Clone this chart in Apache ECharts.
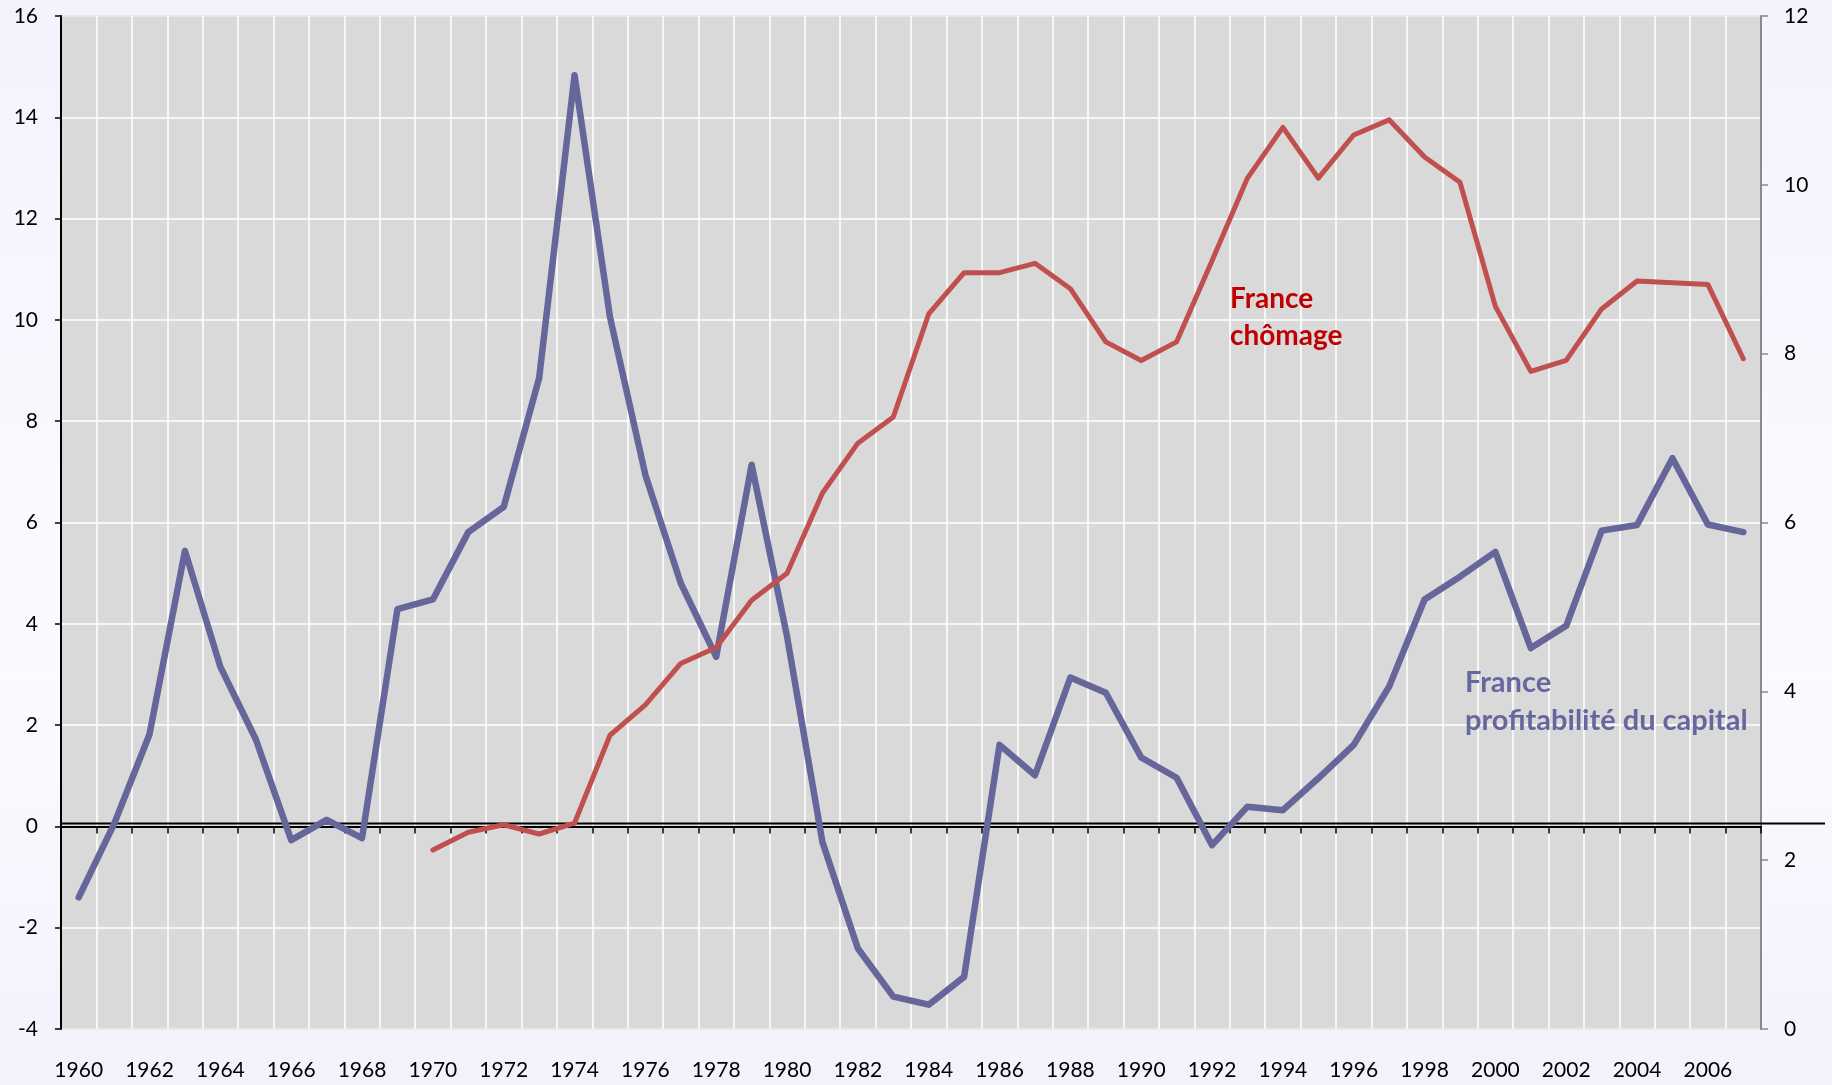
<!DOCTYPE html>
<html>
<head>
<meta charset="utf-8">
<script src="https://cdn.jsdelivr.net/npm/echarts@6/dist/echarts.min.js"></script>
<style>
  html, body { margin: 0; padding: 0; width: 1832px; height: 1085px; overflow: hidden; }
  #chart { width: 1832px; height: 1085px; }
</style>
</head>
<body>
<div id="chart"></div>
<script>
// Years on the horizontal axis
const years = [
  '1960','1961','1962','1963','1964','1965','1966','1967','1968','1969',
  '1970','1971','1972','1973','1974','1975','1976','1977','1978','1979',
  '1980','1981','1982','1983','1984','1985','1986','1987','1988','1989',
  '1990','1991','1992','1993','1994','1995','1996','1997','1998','1999',
  '2000','2001','2002','2003','2004','2005','2006','2007'
];

// France, profitabilité du capital (left axis)
const profitabilite = [
  -1.4, 0.05, 1.82, 5.44, 3.15, 1.72, -0.27, 0.13, -0.23, 4.29,
  4.48, 5.81, 6.31, 8.85, 14.83, 10.06, 6.94, 4.8, 3.35, 7.14,
  3.75, -0.31, -2.41, -3.36, -3.52, -2.97, 1.61, 1.01, 2.94, 2.64,
  1.36, 0.96, -0.37, 0.39, 0.32, 0.95, 1.61, 2.76, 4.48, 4.93,
  5.42, 3.52, 3.96, 5.84, 5.95, 7.27, 5.96, 5.81
];

// France, chômage (right axis), series begins in 1970
const chomage = [
  null, null, null, null, null, null, null, null, null, null,
  2.12, 2.33, 2.42, 2.31, 2.44, 3.48, 3.84, 4.33, 4.52, 5.08,
  5.40, 6.35, 6.94, 7.25, 8.47, 8.96, 8.96, 9.07, 8.77, 8.14,
  7.92, 8.14, 9.1, 10.08, 10.68, 10.08, 10.59, 10.77, 10.33, 10.03,
  8.56, 7.79, 7.92, 8.53, 8.86, 8.84, 8.82, 7.94
];

// Axis ranges
const leftAxisRange = { min: -4, max: 16, step: 2 };
const rightAxisRange = { min: 0, max: 12, step: 2 };

const BLUE = '#66669a';
const RED = '#c0504d';
const FONT = 'Lato';

const chart = echarts.init(document.getElementById('chart'), null, { renderer: 'canvas' });

const option = {
  animation: false,
  backgroundColor: {
    type: 'linear', x: 0, y: 0, x2: 0, y2: 1,
    colorStops: [
      { offset: 0, color: '#f3f3fe' },
      { offset: 0.62, color: '#fbfbff' },
      { offset: 1, color: '#f2f2fd' }
    ]
  },
  textStyle: { fontFamily: FONT },
  grid: {
    left: 61, right: 71, top: 16, bottom: 56,
    show: true,
    backgroundColor: '#d9d9d9',
    borderColor: '#8a8a8a',
    borderWidth: 1.5
  },
  xAxis: {
    type: 'category',
    data: years,
    boundaryGap: true,
    axisLine: { show: true, lineStyle: { color: '#000', width: 2 } },
    axisTick: { show: true, interval: 0, length: 7, lineStyle: { color: '#000', width: 1.5 } },
    axisLabel: { interval: 1, margin: 31, color: '#000', fontSize: 21, fontFamily: FONT },
    splitLine: { show: true, interval: 0, lineStyle: { color: '#ffffff', width: 1.5 } }
  },
  yAxis: [
    {
      type: 'value',
      position: 'left',
      min: leftAxisRange.min, max: leftAxisRange.max, interval: leftAxisRange.step,
      axisLine: { show: true, lineStyle: { color: '#000', width: 2 } },
      axisTick: { show: true, length: 6, lineStyle: { color: '#000', width: 1.5 } },
      axisLabel: { margin: 23, color: '#000', fontSize: 21, fontFamily: FONT },
      splitLine: { show: true, lineStyle: { color: '#ffffff', width: 1.5 } }
    },
    {
      type: 'value',
      position: 'right',
      min: rightAxisRange.min, max: rightAxisRange.max, interval: rightAxisRange.step,
      axisLine: { show: true, lineStyle: { color: '#8a8a8a', width: 2 } },
      axisTick: { show: true, length: 7, lineStyle: { color: '#8a8a8a', width: 1.5 } },
      axisLabel: { margin: 23, color: '#000', fontSize: 21, fontFamily: FONT },
      splitLine: { show: false }
    }
  ],
  series: [
    {
      name: 'France profitabilité du capital',
      type: 'line',
      yAxisIndex: 0,
      data: profitabilite,
      showSymbol: false,
      symbol: 'none',
      lineStyle: { color: BLUE, width: 6.5, cap: 'round', join: 'round' },
      z: 3
    },
    {
      name: 'France chômage',
      type: 'line',
      yAxisIndex: 1,
      data: chomage,
      connectNulls: false,
      showSymbol: false,
      symbol: 'none',
      lineStyle: { color: RED, width: 5, cap: 'round', join: 'round' },
      z: 4
    }
  ]
};

chart.setOption(option);

// Zero reference line across the plot, running a little past the right axis,
// plus the two series captions.
const zeroY = chart.convertToPixel({ yAxisIndex: 0 }, 0) - 3;
const plotLeft = chart.convertToPixel({ xAxisIndex: 0 }, years[0]) - 17.7;

chart.setOption({
  graphic: [
    {
      type: 'line',
      z: 1,
      shape: { x1: plotLeft, y1: zeroY, x2: 1825, y2: zeroY },
      style: { stroke: '#000', lineWidth: 2 }
    },
    {
      type: 'text',
      z: 10,
      left: 1230, top: 280,
      style: {
        text: 'France\nchômage',
        fill: '#c00000',
        font: 'bold 28px ' + FONT,
        lineHeight: 37
      }
    },
    {
      type: 'text',
      z: 10,
      left: 1465, top: 664,
      style: {
        text: 'France\nprofitabilité du capital',
        fill: '#6767a0',
        font: 'bold 29px ' + FONT,
        lineHeight: 38
      }
    }
  ]
});
</script>
</body>
</html>
